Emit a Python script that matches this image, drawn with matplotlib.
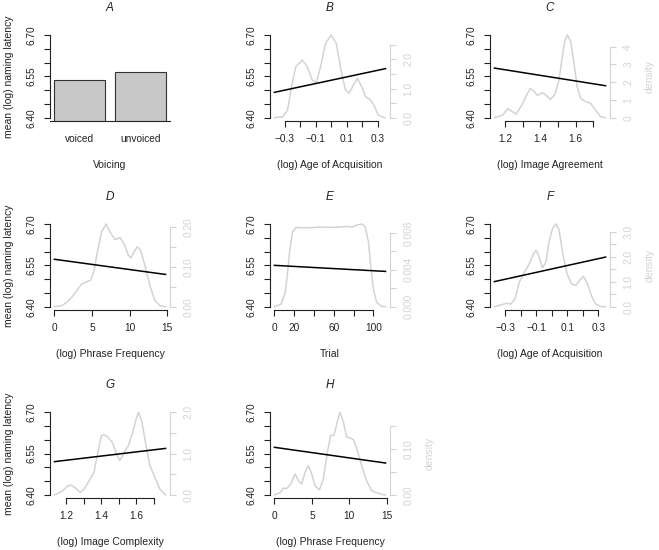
import matplotlib
matplotlib.use('Agg')
import matplotlib.pyplot as plt

plt.rcParams['font.family'] = ['Liberation Sans', 'DejaVu Sans']

# A: mean latency by voicing
voicing = ['voiced', 'unvoiced']
voicing_means = [6.536, 6.565]

# B: (log) age of acquisition
b_line_x = [-0.368, 0.352]
b_line_y = [6.492, 6.578]
b_dens_x = [-0.368, -0.315, -0.283, -0.257, -0.230, -0.187, -0.155, -0.123, -0.097, -0.069, -0.037,
            -0.001, 0.033, 0.063, 0.091, 0.116, 0.144, 0.170, 0.197, 0.223, 0.251, 0.276, 0.304, 0.347]
b_dens_y = [0.0, 0.03, 0.26, 1.07, 1.75, 1.98, 1.75, 1.29, 1.20, 1.75, 2.55,
            2.84, 2.55, 1.64, 0.97, 0.84, 1.12, 1.35, 1.07, 0.72, 0.63, 0.44, 0.09, 0.0]

# C: (log) image agreement
c_line_x = [1.140, 1.770]
c_line_y = [6.580, 6.516]
c_dens_x = [1.140, 1.187, 1.215, 1.243, 1.262, 1.290, 1.318, 1.343, 1.365, 1.384, 1.412, 1.431, 1.456,
            1.482, 1.506, 1.525, 1.538, 1.553, 1.572, 1.591, 1.609, 1.629, 1.657, 1.685, 1.713, 1.741, 1.770]
c_dens_y = [0.0, 0.15, 0.51, 0.34, 0.19, 0.62, 1.18, 1.65, 1.47, 1.26, 1.41, 1.28, 1.03,
            1.28, 2.12, 3.44, 4.29, 4.66, 4.29, 3.06, 1.75, 1.09, 0.90, 0.81, 0.43, 0.06, 0.0]

# D: (log) phrase frequency
d_line_x = [0.0, 14.78]
d_line_y = [6.572, 6.517]
d_dens_x = [0.0, 0.97, 1.64, 2.30, 2.96, 3.63, 4.38, 4.82, 5.27, 5.71, 6.28, 6.86, 7.39,
            8.05, 8.72, 9.25, 9.82, 10.18, 10.58, 11.02, 11.46, 12.04, 12.70, 13.36, 14.03, 14.78]
d_dens_y = [0.0, 0.0025, 0.011, 0.0235, 0.040, 0.057, 0.063, 0.066, 0.091, 0.137, 0.187, 0.207, 0.187,
            0.168, 0.173, 0.158, 0.129, 0.122, 0.137, 0.150, 0.141, 0.103, 0.053, 0.015, 0.0025, 0.0]

# E: trial
e_line_x = [0.0, 112.3]
e_line_y = [6.550, 6.528]
e_dens_x = [0.0, 6.7, 11.0, 13.3, 15.7, 18.3, 21.7, 26.7, 36.7, 46.7, 56.7, 66.7, 73.3,
            78.3, 83.3, 88.3, 91.7, 95.0, 97.3, 100.0, 103.3, 108.3, 112.3]
e_dens_y = [0.0, 0.00029, 0.00157, 0.00376, 0.00631, 0.00814, 0.00861, 0.00858, 0.00858, 0.00865,
            0.00861, 0.00865, 0.00872, 0.00865, 0.00887, 0.00898, 0.00869, 0.00704, 0.00449,
            0.00193, 0.00047, 0.00004, 0.0]

# F: (log) age of acquisition
f_line_x = [-0.368, 0.347]
f_line_y = [6.491, 6.580]
f_dens_x = [-0.368, -0.326, -0.294, -0.262, -0.236, -0.208, -0.176, -0.144, -0.116, -0.099, -0.080,
            -0.059, -0.037, -0.016, 0.006, 0.027, 0.048, 0.070, 0.097, 0.127, 0.155, 0.183, 0.204,
            0.230, 0.256, 0.283, 0.315, 0.347]
f_dens_y = [0.0, 0.07, 0.13, 0.11, 0.31, 0.98, 1.36, 1.72, 2.13, 2.26, 1.99,
            1.55, 1.79, 2.60, 3.14, 3.31, 3.07, 2.19, 1.36, 0.92, 0.85, 1.08, 1.22,
            0.92, 0.44, 0.11, 0.01, 0.0]

# G: (log) image complexity
g_line_x = [1.134, 1.767]
g_line_y = [6.521, 6.569]
g_dens_x = [1.134, 1.181, 1.209, 1.228, 1.251, 1.281, 1.303, 1.331, 1.359, 1.382, 1.401, 1.416, 1.438, 1.463,
            1.487, 1.506, 1.528, 1.556, 1.581, 1.600, 1.613, 1.632, 1.656, 1.678, 1.707, 1.735, 1.767]
g_dens_y = [0.0, 0.10, 0.22, 0.24, 0.18, 0.06, 0.14, 0.34, 0.55, 1.04, 1.43, 1.46, 1.40, 1.28,
            1.00, 0.83, 1.00, 1.20, 1.53, 1.85, 2.00, 1.77, 1.20, 0.71, 0.42, 0.14, 0.0]

# H: (log) phrase frequency
h_line_x = [0.0, 14.84]
h_line_y = [6.573, 6.516]
h_dens_x = [0.0, 0.76, 1.20, 1.64, 2.18, 2.76, 3.20, 3.64, 4.09, 4.53, 4.98, 5.42, 6.00, 6.53, 7.07,
            7.51, 7.96, 8.40, 8.76, 9.20, 9.64, 10.18, 10.62, 11.20, 11.78, 12.31, 12.98, 13.64, 14.31, 14.84]
h_dens_y = [0.0, 0.005, 0.015, 0.014, 0.024, 0.046, 0.031, 0.024, 0.049, 0.064, 0.046, 0.020, 0.011, 0.035, 0.093,
            0.130, 0.130, 0.160, 0.180, 0.160, 0.126, 0.124, 0.119, 0.090, 0.057, 0.031, 0.009, 0.005, 0.0015, 0.0]

lat_ticks = [6.40, 6.45, 6.50, 6.55, 6.60, 6.65, 6.70]
lat_labels = ['6.40', '', '', '6.55', '', '', '6.70']

aoa_ticks = [-0.3, -0.2, -0.1, 0.0, 0.1, 0.2, 0.3]
aoa_labels = ['\u22120.3', '', '\u22120.1', '', '0.1', '', '0.3']
img_ticks = [1.2, 1.3, 1.4, 1.5, 1.6, 1.7]
img_labels = ['1.2', '', '1.4', '', '1.6', '']
freq_ticks = [0, 5, 10, 15]
freq_labels = ['0', '5', '10', '15']
trial_ticks = [0, 20, 40, 60, 80, 100]
trial_labels = ['0', '20', '', '60', '', '100']

panels = [
    # letter, row, col, xlabel, line x, line y, dens x, dens y, xticks, xlabels, dticks, dlabels, density label
    ('B', 0, 1, '(log) Age of Acquisition', b_line_x, b_line_y, b_dens_x, b_dens_y, aoa_ticks, aoa_labels,
     [0, 0.5, 1.0, 1.5, 2.0, 2.5], ['0.0', '', '1.0', '', '2.0', ''], False),
    ('C', 0, 2, '(log) Image Agreement', c_line_x, c_line_y, c_dens_x, c_dens_y, img_ticks, img_labels,
     [0, 1, 2, 3, 4], ['0', '1', '2', '3', '4'], True),
    ('D', 1, 0, '(log) Phrase Frequency', d_line_x, d_line_y, d_dens_x, d_dens_y, freq_ticks, freq_labels,
     [0, 0.05, 0.10, 0.15, 0.20], ['0.00', '', '0.10', '', '0.20'], False),
    ('E', 1, 1, 'Trial', e_line_x, e_line_y, e_dens_x, e_dens_y, trial_ticks, trial_labels,
     [0, 0.002, 0.004, 0.006, 0.008], ['0.000', '', '0.004', '', '0.008'], False),
    ('F', 1, 2, '(log) Age of Acquisition', f_line_x, f_line_y, f_dens_x, f_dens_y, aoa_ticks, aoa_labels,
     [0, 0.5, 1.0, 1.5, 2.0, 2.5, 3.0], ['0.0', '', '1.0', '', '2.0', '', '3.0'], True),
    ('G', 2, 0, '(log) Image Complexity', g_line_x, g_line_y, g_dens_x, g_dens_y, img_ticks, img_labels,
     [0, 0.5, 1.0, 1.5, 2.0], ['0.0', '', '1.0', '', '2.0'], False),
    ('H', 2, 1, '(log) Phrase Frequency', h_line_x, h_line_y, h_dens_x, h_dens_y, freq_ticks, freq_labels,
     [0, 0.05, 0.10, 0.15], ['0.00', '', '0.10', ''], True),
]

W, H = 659, 550
fig = plt.figure(figsize=(W / 100, H / 100), dpi=100)
col_left = [50, 270, 490]
row_top = [31.7, 220.7, 409.0]
pw, ph = 120, 89.3

dark = '#222222'
light = '#d3d3d3'
fs = 7.3


def make_ax(row, col):
    l = col_left[col]
    t = row_top[row]
    return fig.add_axes([l / W, 1 - (t + ph) / H, pw / W, ph / H])


def style_left(ax, letter, xlabel, col):
    ax.set_ylim(6.388, 6.712)
    ax.set_yticks(lat_ticks)
    ax.set_yticklabels(lat_labels)
    for lab in ax.get_yticklabels():
        lab.set_rotation(90)
        lab.set_va('center')
    ax.spines['left'].set_bounds(6.40, 6.70)
    ax.spines['top'].set_visible(False)
    ax.spines['right'].set_visible(False)
    for s in ['left', 'bottom']:
        ax.spines[s].set_color(dark)
        ax.spines[s].set_linewidth(0.8)
    ax.tick_params(axis='both', colors=dark, labelsize=fs, length=4.5, width=0.8, pad=5)
    ax.text(0.5, 1 + 23.7 / ph, letter, transform=ax.transAxes, ha='center', va='center',
            fontsize=8.5, style='italic', color=dark)
    ax.text(0.5, -44 / ph, xlabel, transform=ax.transAxes, ha='center', va='center',
            fontsize=7.5, color=dark)
    if col == 0:
        ax.text(-41 / pw, 0.5, 'mean (log) naming latency', transform=ax.transAxes, rotation=90,
                ha='center', va='center', fontsize=7.5, color=dark)


# panel A
ax = make_ax(0, 0)
bar_pos = [0.7, 1.9]
ax.bar(bar_pos, voicing_means, width=1.0, color='#c8c8c8', edgecolor='#333333', linewidth=0.8)
ax.set_xlim(0.2 - 0.088, 2.4 + 0.088)
style_left(ax, 'A', 'Voicing', 0)
ax.set_xticks(bar_pos)
ax.set_xticklabels(voicing)
ax.tick_params(axis='x', length=0, pad=9.5)

for (letter, row, col, xlabel, lx, ly, dx, dy, xt, xl, dt, dl, dlab) in panels:
    ax = make_ax(row, col)
    ax2 = ax.twinx()
    ax.set_zorder(ax2.get_zorder() + 1)
    ax.patch.set_visible(False)

    ax2.plot(dx, dy, color=light, lw=1.1)
    m = max(dy)
    ax2.set_ylim(-0.04 * m, 1.04 * m)
    ax2.set_yticks(dt)
    ax2.set_yticklabels(dl)
    for lab in ax2.get_yticklabels():
        lab.set_rotation(90)
        lab.set_va('center')
    for s in ['left', 'top', 'bottom']:
        ax2.spines[s].set_visible(False)
    ax2.spines['right'].set_bounds(dt[0], dt[-1])
    ax2.spines['right'].set_color(light)
    ax2.spines['right'].set_linewidth(0.8)
    ax2.tick_params(axis='y', colors=light, labelsize=fs, length=4.5, width=0.8, pad=5)

    ax.plot(lx, ly, color='black', lw=1.1)
    r = lx[1] - lx[0]
    ax.set_xlim(lx[0] - 0.04 * r, lx[1] + 0.04 * r)
    ax.set_xticks(xt)
    ax.set_xticklabels(xl)
    ax.spines['bottom'].set_bounds(xt[0], xt[-1])
    style_left(ax, letter, xlabel, col)
    if dlab:
        ax.text(1 + 40 / pw, 0.5, 'density', transform=ax.transAxes, rotation=90,
                ha='center', va='center', fontsize=7.5, color=light)

fig.savefig('out.png', dpi=100)
